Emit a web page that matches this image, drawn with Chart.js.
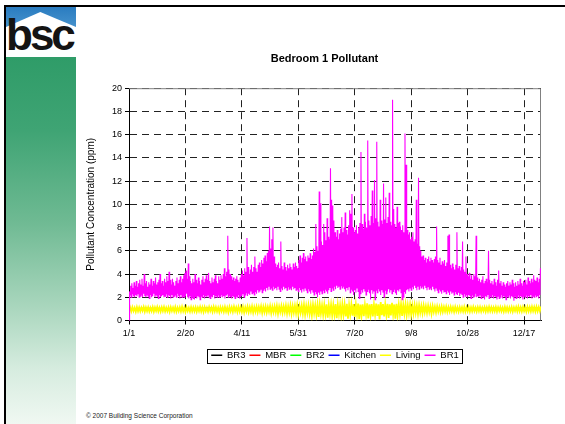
<!DOCTYPE html>
<html>
<head>
<meta charset="utf-8">
<script src="https://cdn.jsdelivr.net/npm/chart.js@4.4.1/dist/chart.umd.min.js"></script>
<style>
html, body { margin: 0; padding: 0; width: 565px; height: 424px; overflow: hidden; background: #fff; font-family: 'Liberation Sans', Arial, sans-serif; }
#topline { position: absolute; left: 4px; top: 5px; width: 561px; height: 2px; background: #000; }
#leftline { position: absolute; left: 4px; top: 5px; width: 2px; height: 419px; background: #000; }
#logo { position: absolute; left: 6px; top: 7px; width: 70px; height: 50px; background: linear-gradient(#2a7cc0, #6fb3e0); overflow: hidden; }
#house { position: absolute; left: 0; top: 0; width: 70px; height: 50px; background: #fff; clip-path: polygon(49% 10%, 100% 40%, 100% 100%, 0 100%, 0 40%); }
#bsc { position: absolute; left: 0; top: 6px; font: bold 44px/44px 'Liberation Sans', Arial, sans-serif; letter-spacing: -3px; color: #141414; }
#panel { position: absolute; left: 6px; top: 57px; width: 70px; height: 367px; background: linear-gradient(#2f9c68, #3fa474 20%, #6fba93 45%, #a9d6bd 68%, #d6ecdf 85%, #f0f8f2); }
#chartbox { position: absolute; left: 84px; top: 40px; width: 481px; height: 330px; }
#copy { position: absolute; left: 86px; top: 412px; font-size: 6.5px; color: #222; white-space: nowrap; }
</style>
</head>
<body>
<div id="topline"></div>
<div id="leftline"></div>
<div id="logo"><div id="house"></div><div id="bsc">bsc</div></div>
<div id="panel"></div>
<div id="chartbox"><canvas id="pollutant_chart" width="481" height="330"></canvas></div>
<div id="copy">© 2007 Building Science Corporation</div>
<script>
var tickLabels = ['1/1', '2/20', '4/11', '5/31', '7/20', '9/8', '10/28', '12/17'];
var seriesNames = ['BR3', 'MBR', 'BR2', 'Kitchen', 'Living', 'BR1'];
var seriesColors = ['#000000', '#ff0000', '#00ff00', '#0000ff', '#ffff00', '#ff00ff'];

// BR1: daily high / low readings, day 0 = 1/1
var br1High = [
    2.5, 3.0, 3.2, 2.8, 3.3, 3.0, 3.4, 2.9, 3.2, 3.5,
    3.1, 3.6, 3.0, 4.0, 3.2, 3.4, 2.9, 3.3, 3.1, 3.6,
    3.0, 3.4, 3.2, 3.7, 3.1, 3.3, 3.5, 4.0, 3.2, 3.4,
    3.0, 3.6, 3.3, 3.8, 3.4, 4.2, 3.5, 3.1, 3.6, 3.3,
    3.0, 3.4, 3.7, 3.2, 3.5, 3.8, 3.3, 3.6, 3.9, 4.1,
    4.3, 3.6, 4.9, 3.8, 3.4, 3.2, 3.6, 3.3, 4.0, 3.5,
    3.2, 3.7, 3.4, 3.1, 3.5, 3.8, 3.3, 3.6, 3.9, 3.5,
    4.1, 3.4, 3.2, 3.7, 3.3, 3.6, 3.9, 3.4, 3.2, 3.8,
    3.5, 3.9, 3.6, 4.0, 4.5, 3.8, 4.2, 7.3, 4.4, 4.0,
    3.8, 3.5, 3.7, 3.4, 3.6, 3.8, 3.5, 3.3, 3.7, 4.0,
    4.3, 3.9, 4.5, 4.2, 7.1, 4.6, 4.0, 4.4, 4.8, 4.2,
    4.6, 5.5, 4.5, 4.2, 4.8, 5.0, 4.6, 5.2, 4.9, 5.4,
    5.6, 5.1, 5.8, 6.0, 8.1, 6.2, 7.0, 8.0, 5.5, 4.9,
    4.6, 4.8, 5.0, 4.5, 6.8, 4.7, 4.4, 5.0, 4.6, 4.3,
    4.8, 4.5, 4.9, 4.6, 4.4, 4.9, 4.6, 5.0, 4.7, 4.5,
    5.2, 5.6, 5.0, 5.4, 5.8, 5.3, 5.5, 5.1, 5.6, 5.4,
    5.8, 5.3, 5.6, 6.2, 5.9, 8.3, 6.4, 6.0, 11.1, 10.1,
    6.8, 6.5, 8.3, 7.6, 6.9, 8.8, 7.2, 7.0, 13.1, 10.4,
    9.9, 8.6, 7.6, 7.2, 7.8, 7.0, 7.5, 7.9, 8.9, 7.6,
    8.0, 9.3, 7.8, 7.4, 8.2, 9.5, 9.2, 10.9, 8.0, 7.6,
    7.8, 8.2, 7.5, 8.0, 8.4, 14.5, 8.3, 7.9, 9.2, 8.5,
    8.0, 15.5, 8.6, 8.2, 9.0, 11.2, 8.4, 12.1, 8.8, 15.4,
    8.5, 8.1, 10.4, 8.6, 8.3, 11.8, 8.7, 10.6, 8.4, 8.9,
    11.0, 8.5, 8.2, 19.0, 9.6, 8.3, 8.0, 9.8, 8.4, 8.5,
    8.1, 7.8, 8.2, 7.6, 16.1, 13.4, 7.8, 7.4, 7.6, 7.0,
    7.2, 7.6, 6.8, 7.0, 10.4, 6.6, 12.3, 6.4, 6.0, 5.5,
    5.6, 5.2, 5.4, 5.0, 5.3, 5.5, 5.1, 5.4, 5.2, 5.0,
    5.3, 5.5, 8.1, 5.2, 5.0, 5.4, 4.8, 5.1, 4.9, 5.2,
    4.7, 5.0, 7.3, 7.4, 4.8, 4.5, 4.9, 4.6, 4.4, 4.8,
    7.6, 4.5, 4.7, 4.3, 4.6, 6.8, 4.4, 4.2, 5.5, 4.0,
    3.8, 4.1, 3.6, 3.9, 3.5, 4.0, 3.8, 7.3, 3.7, 3.4,
    3.6, 3.3, 3.5, 3.8, 3.2, 3.4, 3.6, 3.3, 6.0, 3.5,
    3.2, 3.4, 3.1, 3.6, 3.3, 3.0, 3.5, 4.3, 3.2, 3.4,
    3.0, 3.3, 3.1, 2.9, 3.2, 3.4, 3.0, 3.3, 3.1, 3.5,
    3.2, 2.9, 3.3, 3.0, 3.4, 3.1, 3.6, 3.2, 3.0, 3.4,
    3.3, 3.5, 3.1, 3.7, 3.4, 3.2, 3.6, 3.3, 3.9, 3.5,
    3.4, 3.7, 3.3, 3.6, 4.5
];
var br1Low = [
    0.0, 2.2, 2.0, 2.3, 2.1, 2.0, 2.2, 2.1, 2.3, 2.0,
    2.1, 2.2, 2.0, 2.3, 2.1, 2.0, 2.2, 2.1, 1.9, 2.2,
    2.0, 2.1, 2.3, 2.0, 2.2, 2.1, 1.9, 2.2, 2.0, 2.1,
    2.2, 2.0, 2.1, 2.3, 2.0, 2.2, 2.1, 1.9, 2.2, 2.0,
    2.1, 2.2, 2.0, 2.3, 2.1, 1.9, 2.2, 2.0, 2.1, 2.0,
    2.1, 2.3, 2.0, 1.9, 2.1, 1.8, 2.0, 1.9, 1.8, 2.0,
    1.9, 2.1, 2.0, 1.8, 2.1, 2.0, 2.2, 1.9, 2.1, 2.0,
    2.2, 2.0, 1.9, 2.1, 2.0, 2.2, 1.9, 2.1, 2.0, 2.2,
    2.0, 2.1, 2.2, 2.0, 2.1, 1.9, 2.2, 2.3, 2.0, 2.1,
    2.0, 1.9, 2.1, 2.0, 1.9, 2.1, 2.0, 2.2, 1.9, 2.0,
    2.1, 2.3, 2.0, 2.2, 2.4, 2.1, 2.3, 2.2, 2.5, 2.3,
    2.4, 2.2, 2.5, 2.3, 2.6, 2.4, 2.5, 2.7, 2.4, 2.6,
    2.7, 2.5, 2.8, 2.6, 2.9, 2.7, 2.8, 2.6, 2.9, 2.7,
    2.8, 2.6, 2.9, 2.7, 2.5, 2.8, 2.6, 2.9, 2.7, 2.8,
    2.6, 2.9, 2.7, 2.8, 2.6, 2.9, 2.7, 2.8, 2.6, 2.7,
    2.5, 2.8, 2.6, 2.4, 2.7, 2.5, 2.8, 2.6, 2.4, 2.7,
    2.5, 2.3, 2.6, 2.4, 2.2, 2.5, 2.3, 2.0, 2.4, 2.2,
    2.5, 2.3, 2.6, 2.4, 2.7, 2.5, 2.3, 2.6, 2.8, 2.5,
    2.8, 2.6, 2.9, 2.7, 3.0, 2.8, 2.9, 2.7, 3.0, 2.8,
    2.9, 2.7, 2.5, 2.8, 2.6, 2.9, 2.4, 2.7, 2.5, 2.2,
    2.6, 2.4, 2.8, 2.5, 1.9, 2.3, 2.6, 2.4, 2.7, 2.5,
    2.2, 2.5, 2.7, 2.4, 1.8, 2.6, 2.3, 2.5, 1.8, 2.6,
    2.4, 2.7, 2.5, 2.2, 2.6, 2.4, 2.0, 2.6, 2.3, 2.5,
    2.7, 2.4, 2.6, 2.3, 2.5, 2.7, 2.4, 2.2, 2.6, 2.5,
    2.7, 2.4, 1.8, 2.0, 2.5, 2.3, 2.6, 2.7, 2.5, 2.8,
    2.6, 2.9, 2.7, 3.0, 2.8, 2.6, 2.9, 2.7, 3.0, 2.8,
    2.9, 2.7, 3.0, 2.8, 2.6, 2.9, 2.7, 2.8, 2.6, 2.9,
    2.7, 2.5, 2.8, 2.6, 2.4, 2.7, 2.5, 2.3, 2.6, 2.4,
    2.5, 2.3, 2.6, 2.4, 2.2, 2.5, 2.3, 2.4, 2.2, 2.5,
    2.3, 2.2, 2.4, 2.1, 2.3, 2.2, 2.0, 2.3, 2.1, 2.2,
    2.0, 2.2, 2.1, 1.9, 2.2, 2.0, 2.1, 2.3, 2.0, 2.1,
    2.0, 2.2, 1.9, 2.1, 2.0, 1.8, 2.1, 2.0, 2.2, 1.9,
    2.1, 2.0, 2.2, 1.9, 2.1, 2.0, 1.8, 2.1, 1.9, 2.0,
    2.2, 1.9, 2.1, 2.0, 1.8, 2.1, 2.0, 2.2, 1.9, 2.1,
    2.0, 1.7, 2.1, 1.9, 2.0, 2.2, 1.9, 2.1, 2.0, 1.8,
    2.1, 2.0, 2.2, 1.9, 2.1, 2.0, 2.2, 1.9, 2.1, 2.0,
    2.2, 2.0, 2.1, 1.9, 2.2
];

// Living: high / low per two-day step
var livingLow = [
    0.80, 0.78, 0.82, 0.76, 0.80, 0.79, 0.83, 0.77, 0.81, 0.78,
    0.80, 0.76, 0.82, 0.79, 0.77, 0.81, 0.78, 0.80, 0.75, 0.82,
    0.79, 0.76, 0.81, 0.78, 0.80, 0.74, 0.82, 0.77, 0.79, 0.80,
    0.76, 0.81, 0.78, 0.74, 0.80, 0.77, 0.82, 0.75, 0.79, 0.78,
    0.72, 0.80, 0.76, 0.78, 0.70, 0.79, 0.75, 0.81, 0.73, 0.77,
    0.74, 0.70, 0.78, 0.72, 0.76, 0.68, 0.75, 0.71, 0.77, 0.66,
    0.73, 0.69, 0.75, 0.64, 0.72, 0.70, 0.60, 0.74, 0.67, 0.71,
    0.62, 0.70, 0.58, 0.68, 0.65, 0.55, 0.69, 0.60, 0.52, 0.66,
    0.58, 0.45, 0.63, 0.50, 0.30, 0.60, 0.48, 0.55, 0.25, 0.58,
    0.45, 0.52, 0.20, 0.55, 0.40, 0.50, 0.35, 0.15, 0.52, 0.42,
    0.30, 0.50, 0.12, 0.45, 0.38, 0.55, 0.18, 0.48, 0.35, 0.52,
    0.40, 0.10, 0.46, 0.35, 0.50, 0.22, 0.44, 0.52, 0.15, 0.47,
    0.55, 0.40, 0.58, 0.48, 0.62, 0.52, 0.60, 0.66, 0.56, 0.68,
    0.62, 0.70, 0.66, 0.72, 0.58, 0.74, 0.70, 0.76, 0.72, 0.75,
    0.78, 0.74, 0.77, 0.80, 0.75, 0.79, 0.76, 0.80, 0.78, 0.77,
    0.80, 0.76, 0.79, 0.81, 0.77, 0.80, 0.78, 0.82, 0.76, 0.79,
    0.81, 0.78, 0.80, 0.77, 0.82, 0.79, 0.76, 0.81, 0.78, 0.80,
    0.77, 0.82, 0.79, 0.80, 0.78, 0.81, 0.77, 0.80, 0.79, 0.82,
    0.78, 0.80, 0.81
];
var livingHigh = [
    1.12, 1.15, 1.10, 1.16, 1.13, 1.11, 1.17, 1.12, 1.14, 1.10,
    1.15, 1.12, 1.17, 1.11, 1.14, 1.16, 1.10, 1.13, 1.15, 1.12,
    1.16, 1.11, 1.14, 1.18, 1.12, 1.15, 1.10, 1.16, 1.13, 1.14,
    1.11, 1.17, 1.13, 1.15, 1.10, 1.16, 1.12, 1.18, 1.14, 1.11,
    1.15, 1.13, 1.17, 1.12, 1.16, 1.14, 1.19, 1.13, 1.17, 1.15,
    1.18, 1.14, 1.20, 1.16, 1.22, 1.15, 1.19, 1.17, 1.23, 1.18,
    1.21, 1.16, 1.24, 1.19, 1.22, 1.26, 1.20, 1.25, 1.21, 1.28,
    1.23, 1.30, 1.25, 1.27, 1.32, 1.24, 1.29, 1.35, 1.26, 1.31,
    1.28, 1.36, 1.30, 1.33, 1.38, 1.29, 1.34, 1.40, 1.31, 1.37,
    1.33, 1.42, 1.35, 1.30, 1.39, 1.36, 1.44, 1.32, 1.38, 1.41,
    1.35, 1.46, 1.37, 1.40, 1.33, 1.48, 1.38, 1.42, 1.36, 1.45,
    1.39, 1.58, 1.41, 1.37, 1.44, 1.40, 1.52, 1.38, 1.43, 1.36,
    1.40, 1.34, 1.38, 1.31, 1.36, 1.29, 1.33, 1.27, 1.31, 1.25,
    1.28, 1.23, 1.26, 1.21, 1.24, 1.19, 1.22, 1.18, 1.21, 1.17,
    1.19, 1.15, 1.18, 1.14, 1.17, 1.13, 1.16, 1.14, 1.18, 1.12,
    1.15, 1.13, 1.17, 1.11, 1.14, 1.16, 1.12, 1.15, 1.13, 1.17,
    1.14, 1.12, 1.16, 1.13, 1.15, 1.11, 1.17, 1.14, 1.12, 1.16,
    1.13, 1.15, 1.18, 1.14, 1.16, 1.12, 1.17, 1.15, 1.19, 1.16,
    1.18, 1.15, 1.20
];

// the other rooms sit under the Living band, one reading per two weeks
var br3Values = [1.02, 1.05, 1.04, 1.03, 1.03, 1.06, 1.02, 1.00, 1.04, 1.01, 1.03, 0.98, 0.95, 0.92, 0.90, 0.93, 0.94, 0.97, 0.96, 1.00, 1.02, 1.03, 1.04, 1.05, 1.03, 1.06, 1.05];
var mbrValues = [1.00, 1.02, 1.01, 1.03, 1.00, 1.02, 0.99, 1.01, 0.98, 1.00, 0.97, 0.95, 0.93, 0.90, 0.88, 0.91, 0.92, 0.95, 0.94, 0.97, 0.99, 1.00, 1.01, 1.02, 1.00, 1.03, 1.02];
var br2Values = [0.97, 0.99, 0.98, 1.00, 0.96, 0.99, 0.97, 0.98, 0.95, 0.97, 0.94, 0.92, 0.90, 0.88, 0.86, 0.89, 0.90, 0.92, 0.91, 0.94, 0.96, 0.97, 0.98, 0.99, 0.97, 1.00, 0.99];
var kitchenValues = [0.94, 0.96, 0.95, 0.97, 0.93, 0.96, 0.94, 0.95, 0.92, 0.94, 0.91, 0.89, 0.87, 0.85, 0.84, 0.86, 0.87, 0.89, 0.88, 0.91, 0.93, 0.94, 0.95, 0.96, 0.94, 0.97, 0.96];

var fontFamily = "'Liberation Sans', Arial, sans-serif";

function bandPoints(low, high, step) {
    var pts = [];
    low.forEach(function (lo, i) {
        pts.push({ x: i * step, y: lo });
        pts.push({ x: i * step + step / 2, y: high[i] });
    });
    return pts;
}

function stepPoints(values, step) {
    return values.map(function (v, i) { return { x: i * step, y: v }; });
}

var seriesData = [
    stepPoints(br3Values, 14),
    stepPoints(mbrValues, 14),
    stepPoints(br2Values, 14),
    stepPoints(kitchenValues, 14),
    bandPoints(livingLow, livingHigh, 2),
    bandPoints(br1Low, br1High, 1)
];
var lineWidths = [1, 1, 1, 1, 1.8, 1.1];

var datasets = seriesNames.map(function (name, i) {
    return {
        label: name,
        data: seriesData[i],
        borderColor: seriesColors[i],
        backgroundColor: seriesColors[i],
        borderWidth: lineWidths[i],
        pointRadius: 0,
        pointStyle: 'line',
        tension: 0,
        fill: false,
        order: seriesNames.length - 1 - i
    };
});

// gray frame on top/right of the plot, box around the legend
var framePlugin = {
    id: 'frame',
    beforeDatasetsDraw: function (chart) {
        var a = chart.chartArea, ctx = chart.ctx;
        ctx.save();
        ctx.strokeStyle = '#808080';
        ctx.lineWidth = 1;
        ctx.beginPath();
        ctx.moveTo(a.left, a.top + 0.5);
        ctx.lineTo(a.right - 0.5, a.top + 0.5);
        ctx.lineTo(a.right - 0.5, a.bottom);
        ctx.stroke();
        ctx.restore();
    },
    afterDraw: function (chart) {
        var boxes = chart.legend.legendHitBoxes;
        if (!boxes || !boxes.length) return;
        var first = boxes[0], last = boxes[boxes.length - 1];
        var ctx = chart.ctx;
        ctx.save();
        ctx.strokeStyle = '#000';
        ctx.lineWidth = 1;
        ctx.strokeRect(Math.round(first.left - 4) + 0.5, Math.round(first.top - 2) + 0.5,
            Math.round(last.left + last.width - first.left + 7), Math.round(first.height + 4));
        ctx.restore();
    }
};

var gridOpts = {
    color: '#222',
    lineWidth: 1,
    drawTicks: true,
    tickLength: 4,
    tickColor: '#000',
    tickBorderDash: []
};

var ctx = document.getElementById('pollutant_chart').getContext('2d');
var pollutantChart = new Chart(ctx, {
    type: 'line',
    data: { datasets: datasets },
    plugins: [framePlugin],
    options: {
        responsive: false,
        animation: false,
        events: [],
        layout: { padding: 0 },
        scales: {
            x: {
                type: 'linear',
                min: 0,
                max: 365,
                grid: gridOpts,
                border: { display: true, color: '#000', width: 1, dash: [7, 5] },
                ticks: {
                    stepSize: 50,
                    includeBounds: false,
                    autoSkip: false,
                    maxRotation: 0,
                    padding: 4,
                    color: '#000',
                    font: { family: fontFamily, size: 9 },
                    callback: function (value) { return tickLabels[value / 50]; }
                },
                afterFit: function (scale) { scale.height = 26; }
            },
            y: {
                type: 'linear',
                position: 'left',
                min: 0,
                max: 20,
                grid: gridOpts,
                border: { display: true, color: '#000', width: 1, dash: [7, 5] },
                ticks: {
                    stepSize: 2,
                    padding: 3,
                    color: '#000',
                    font: { family: fontFamily, size: 9 }
                },
                title: {
                    display: true,
                    text: 'Pollutant Concentration (ppm)',
                    color: '#000',
                    font: { family: fontFamily, size: 10 },
                    padding: { top: 1, bottom: 0 }
                },
                afterFit: function (scale) { scale.width = 45; }
            },
            yRight: {
                type: 'linear',
                position: 'right',
                display: true,
                grid: { display: false },
                border: { display: false },
                ticks: { display: false },
                afterFit: function (scale) { scale.width = 24; }
            }
        },
        plugins: {
            title: {
                display: true,
                text: 'Bedroom 1 Pollutant',
                color: '#000',
                font: { family: fontFamily, size: 11, weight: 'bold' },
                padding: { top: 12, bottom: 23 }
            },
            legend: {
                display: true,
                position: 'bottom',
                fullSize: false,
                labels: {
                    usePointStyle: true,
                    pointStyleWidth: 11,
                    padding: 4,
                    color: '#000',
                    font: { family: fontFamily, size: 9.5 },
                    generateLabels: function (chart) {
                        return Chart.defaults.plugins.legend.labels.generateLabels(chart).map(function (item) {
                            item.lineWidth = 1.5;
                            return item;
                        });
                    },
                    sort: function (a, b) { return a.datasetIndex - b.datasetIndex; }
                }
            },
            tooltip: { enabled: false }
        }
    }
});
</script>
</body>
</html>
